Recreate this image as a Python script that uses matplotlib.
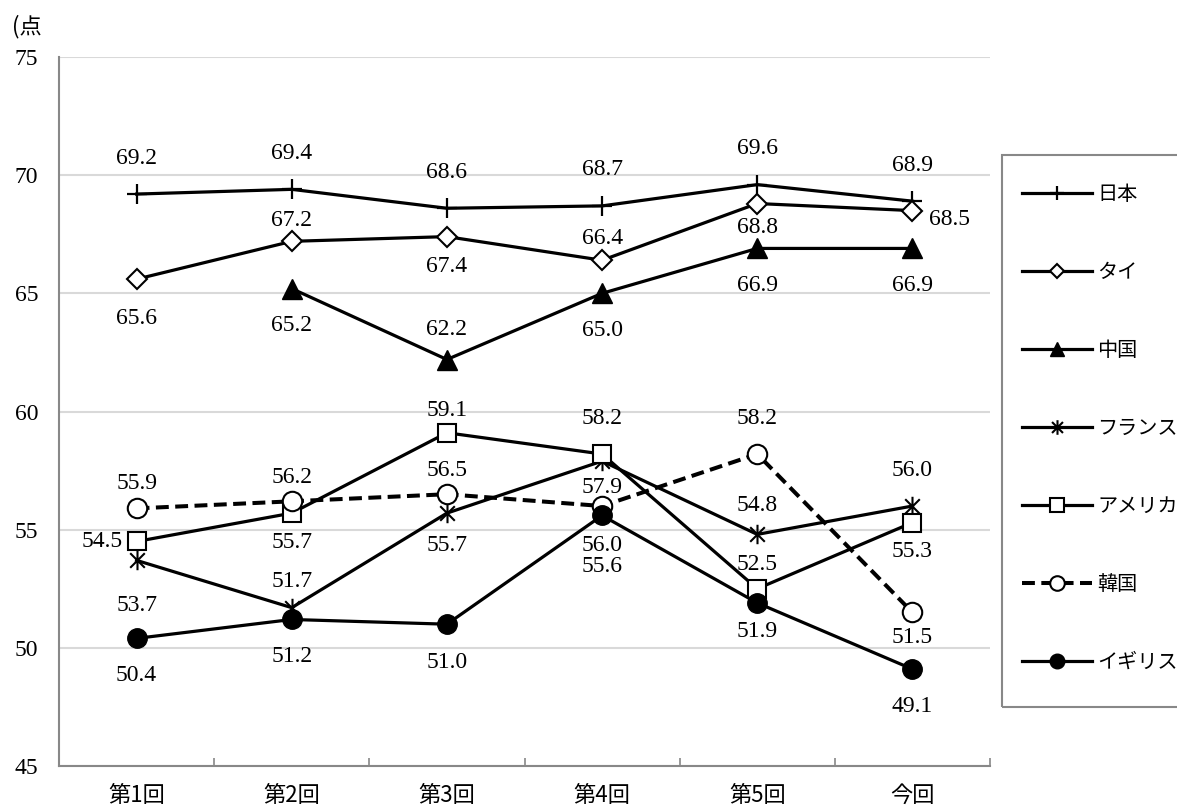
import numpy as np
import matplotlib
matplotlib.use("Agg")
import matplotlib.pyplot as plt
from matplotlib.path import Path
from matplotlib.patches import Rectangle

categories = ["第1回", "第2回", "第3回", "第4回", "第5回", "今回"]
japan   = [69.2, 69.4, 68.6, 68.7, 69.6, 68.9]
thai    = [65.6, 67.2, 67.4, 66.4, 68.8, 68.5]
china   = [np.nan, 65.2, 62.2, 65.0, 66.9, 66.9]
france  = [53.7, 51.7, 55.7, 57.9, 54.8, 56.0]
usa     = [54.5, 55.7, 59.1, 58.2, 52.5, 55.3]
korea   = [55.9, 56.2, 56.5, 56.0, 58.2, 51.5]
uk      = [50.4, 51.2, 51.0, 55.6, 51.9, 49.1]
names = ["日本", "タイ", "中国", "フランス", "アメリカ", "韓国", "イギリス"]
yticks = [45, 50, 55, 60, 65, 70, 75]

# label offsets in image pixels (dx, dy downward)
off_japan  = [(0, -36)] * 6
off_thai   = [(0, 39), (0, -21), (0, 30), (0, -22), (0, 24), (37, 9)]
off_china  = [None, (0, 37), (0, -30), (0, 37), (0, 37), (0, 37)]
off_france = [(0, 45), (0, -26), (0, 32), (0, 26), (0, -29), (0, -36)]
off_usa    = [(-34, 0), (0, 29), (0, -22), (0, -36), (0, -24), (0, 29)]
off_korea  = [(0, -25), (0, -24), (0, -24), (0, 39), (0, -36), (0, 25)]
off_uk     = [(0, 37), (0, 37), (0, 38), (0, 51), (0, 29), (0, 37)]

ast = Path([(0, -1), (0, 1), (-0.75, -0.75), (0.75, 0.75), (-0.75, 0.75), (0.75, -0.75)],
           [Path.MOVETO, Path.LINETO, Path.MOVETO, Path.LINETO, Path.MOVETO, Path.LINETO])

plt.rcParams["font.serif"] = ["Liberation Serif", "DejaVu Serif"]

W, H = 1177, 807
fig = plt.figure(figsize=(W / 100, H / 100), dpi=100)
ax = fig.add_axes([59 / W, 41 / H, (990 - 59) / W, (766 - 57) / H])

x = np.arange(len(categories))
serif = "serif"
jp = ["Noto Sans CJK JP", "DejaVu Sans"]

styles = [
    (japan, dict(marker="+", ms=14, mew=1.6, mfc="black"), "-", off_japan),
    (thai, dict(marker="D", ms=10, mew=1.5, mfc="white"), "-", off_thai),
    (china, dict(marker="^", ms=14, mew=1.0, mfc="black"), "-", off_china),
    (france, dict(marker=ast, ms=14, mew=1.5, mfc="black"), "-", off_france),
    (usa, dict(marker="s", ms=13, mew=1.5, mfc="white"), "-", off_usa),
    (korea, dict(marker="o", ms=14, mew=1.5, mfc="white"), (0, (3.2, 1.6)), off_korea),
    (uk, dict(marker="o", ms=14, mew=1.0, mfc="black"), "-", off_uk),
]

for (vals, mk, ls, offs), name in zip(styles, names):
    lw = 2.9 if name == "韓国" else 2.3
    ax.plot(x, vals, color="black", lw=lw, ls=ls, mec="black", label=name,
            zorder=3, **mk)
    for xi, v, o in zip(x, vals, offs):
        if o is None or np.isnan(v):
            continue
        ax.annotate(f"{v:.1f}", (xi, v), xytext=(o[0], -o[1]), textcoords="offset pixels",
                    ha="center", va="center", fontsize=17, family=serif, zorder=4)

ax.set_xlim(-0.5, len(categories) - 0.5)
ax.set_ylim(45, 75)
ax.set_yticks(yticks)
ax.set_yticklabels([str(t) for t in yticks], family=serif, fontsize=17)
ax.set_xticks(x)
ax.set_xticklabels(categories, family=jp, fontsize=16)
ax.set_xticks(np.arange(-0.5, len(categories)), minor=True)
ax.tick_params(axis="x", which="major", length=0, pad=13)
ax.tick_params(axis="x", which="minor", length=6, direction="in", color="#888888", width=1.2)
ax.tick_params(axis="y", length=0, pad=15)
ax.grid(axis="y", color="#d9d9d9", lw=1.5, zorder=0)
ax.set_axisbelow(True)
for s in ["top", "right"]:
    ax.spines[s].set_visible(False)
for s in ["left", "bottom"]:
    ax.spines[s].set_color("#888888")
    ax.spines[s].set_linewidth(1.5)

fig.text(12 / W, 1 - 27 / H, "(点", family=jp, fontsize=16, ha="left", va="center")

leg = fig.legend(loc="upper left", bbox_to_anchor=(1002 / W, 1 - 164 / H),
                 prop={"family": jp, "size": 14.5}, handlelength=3.48,
                 handletextpad=0.25, labelspacing=2.83, borderpad=1.0, borderaxespad=0,
                 frameon=False, markerscale=0.75)
fig.add_artist(Rectangle((1002 / W, 1 - 707 / H), 200 / W, (707 - 155) / H,
                         transform=fig.transFigure, facecolor="none",
                         edgecolor="#888888", lw=1.5, clip_on=False))

fig.savefig("out.png", dpi=100)
